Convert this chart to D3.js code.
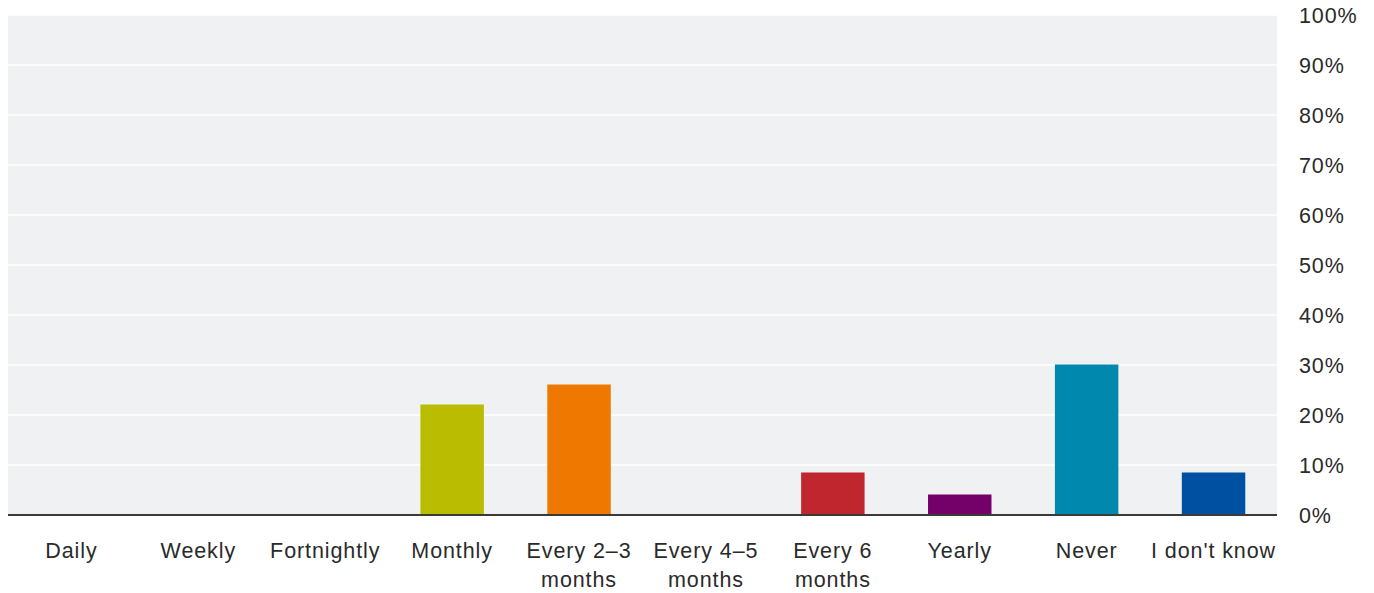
<!DOCTYPE html>
<html><head><meta charset="utf-8">
<script src="https://cdn.jsdelivr.net/npm/d3@7"></script>
<style>body{margin:0;background:#fff}svg{display:block}text{font-family:"Liberation Sans",Arial,sans-serif}</style>
</head><body><svg id="c" width="1374" height="593"></svg>
<script>
const categories = ["Daily","Weekly","Fortnightly","Monthly","Every 2–3 months","Every 4–5 months","Every 6 months","Yearly","Never","I don't know"];
const labelLines = [["Daily"],["Weekly"],["Fortnightly"],["Monthly"],["Every 2–3","months"],["Every 4–5","months"],["Every 6","months"],["Yearly"],["Never"],["I don't know"]];
const values = [0,0,0,22.1,26.1,0,8.5,4.1,30.1,8.5];
const colors = ["#b9bc00","#b9bc00","#b9bc00","#b9bc00","#ee7800","#ee7800","#c0262d","#74006a","#0088ae","#0050a2"];
const yTicks = [0,10,20,30,40,50,60,70,80,90,100];

const svg = d3.select("#c");
const L=8, R=1277, T=15, B=515;
const x = d3.scaleBand().domain(categories).range([L,R]).paddingInner(0.5).paddingOuter(0.25);
const y = d3.scaleLinear().domain([0,100]).range([B,T]);

svg.append("rect").attr("x",L).attr("y",T).attr("width",R-L).attr("height",B-T).attr("fill","#f0f1f3");
svg.append("g").selectAll("line").data(yTicks.filter(d=>d>0)).join("line")
  .attr("x1",L).attr("x2",R).attr("y1",d=>y(d)).attr("y2",d=>y(d))
  .attr("stroke","#fff").attr("stroke-width",1.5);

svg.append("g").selectAll("rect").data(categories).join("rect")
  .attr("x",d=>x(d)).attr("width",x.bandwidth())
  .attr("y",(d,i)=>y(values[i])).attr("height",(d,i)=>B-y(values[i]))
  .attr("fill",(d,i)=>colors[i]);

svg.append("line").attr("x1",L).attr("x2",R).attr("y1",B).attr("y2",B).attr("stroke","#3a3a3a").attr("stroke-width",2);

const yAxis = d3.axisRight(y).tickValues(yTicks).tickFormat(d=>d+"%").tickSize(0).tickPadding(0);
const ya = svg.append("g").attr("transform",`translate(1299,1)`).call(yAxis);
ya.select(".domain").remove();
ya.selectAll("text").attr("font-size",21.5).attr("letter-spacing",0.9).attr("fill","#2a2a2a").attr("font-family","Liberation Sans, Arial, sans-serif");

const xa = svg.append("g");
categories.forEach((c,i)=>{
  const cx = x(c)+x.bandwidth()/2;
  const t = xa.append("text").attr("x",cx).attr("y",557.5).attr("text-anchor","middle")
    .attr("font-size",21.5).attr("letter-spacing",0.9).attr("fill","#2a2a2a");
  labelLines[i].forEach((ln,j)=>t.append("tspan").attr("x",cx).attr("dy",j?29:0).text(ln));
});
</script></body></html>
